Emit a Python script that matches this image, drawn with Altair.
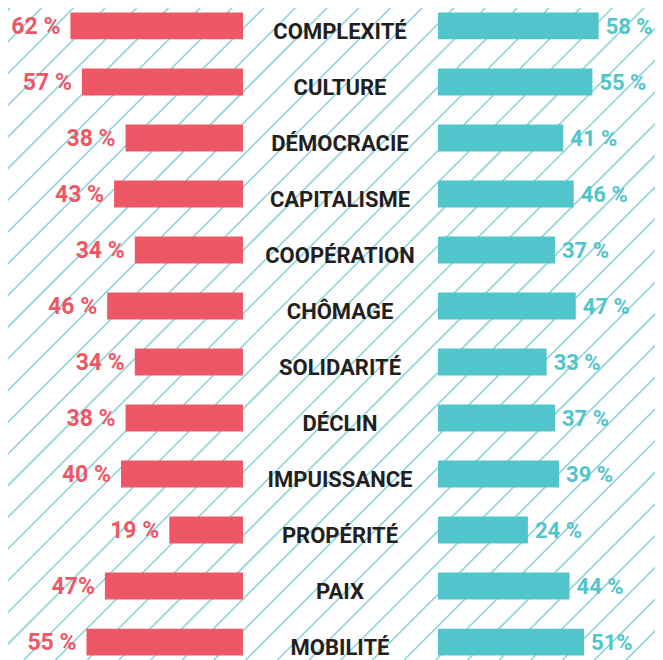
import altair as alt
import pandas as pd

categories = ["COMPLEXITÉ", "CULTURE", "DÉMOCRACIE", "CAPITALISME", "COOPÉRATION",
              "CHÔMAGE", "SOLIDARITÉ", "DÉCLIN", "IMPUISSANCE", "PROPÉRITÉ", "PAIX", "MOBILITÉ"]
left_values = [62, 57, 38, 43, 34, 46, 34, 38, 40, 19, 47, 55]
right_values = [58, 55, 41, 46, 37, 47, 33, 37, 39, 24, 44, 51]
left_labels = ["62 %", "57 %", "38 %", "43 %", "34 %", "46 %", "34 %", "38 %", "40 %", "19 %", "47%", "55 %"]
right_labels = ["58 %", "55 %", "41 %", "46 %", "37 %", "47 %", "33 %", "37 %", "39 %", "24 %", "44 %", "51%"]

W, H = 647, 652
RED = "#EE5766"
TEAL = "#52C5CC"
DARK = "#231F20"
STRIPE = "#8FD3D9"
FONT = "Roboto"

df = pd.DataFrame({
    "cat": categories,
    "left": left_values,
    "right": right_values,
    "llab": left_labels,
    "rlab": right_labels,
})

# decorative diagonal hatching (background pattern)
stripe_step = 31.7
stripes = pd.DataFrame({"c": [2 + stripe_step * k for k in range(0, 45)]})
stripes["x0"] = stripes["c"] - H

y_enc = alt.Y("cat:N", sort=categories, axis=None,
              scale=alt.Scale(type="band", paddingInner=0.52, paddingOuter=0.08))

# bar baselines sit slightly below zero, as in the original graphic
LEFT_BASE = -13.04
RIGHT_BASE = -19.23
left_scale = alt.Scale(domain=[0, 100], range=[205, -25])
right_scale = alt.Scale(domain=[0, 100], range=[470, 678])
pix_scale = alt.Scale(domain=[0, W], range=[0, W])

stripe_layer = alt.Chart(stripes).mark_rule(color=STRIPE, strokeWidth=1.6, clip=True).encode(
    x=alt.X("x0:Q", scale=pix_scale, axis=None),
    x2="c:Q",
    y=alt.value(H),
    y2=alt.value(0),
)

base = alt.Chart(df)

left_bars = base.mark_bar(color=RED).encode(
    x=alt.X("left:Q", scale=left_scale, axis=None),
    x2=alt.datum(LEFT_BASE),
    y=y_enc,
)
left_text = base.mark_text(color=RED, font=FONT, fontWeight="bold", fontSize=23,
                           align="right", baseline="middle", dx=-10, dy=1).encode(
    x=alt.X("left:Q", scale=left_scale, axis=None),
    y=y_enc,
    text="llab:N",
)
right_bars = base.mark_bar(color=TEAL).encode(
    x=alt.X("right:Q", scale=right_scale, axis=None),
    x2=alt.datum(RIGHT_BASE),
    y=y_enc,
)
right_text = base.mark_text(color=TEAL, font=FONT, fontWeight="bold", fontSize=22,
                            align="left", baseline="middle", dx=7, dy=1).encode(
    x=alt.X("right:Q", scale=right_scale, axis=None),
    y=y_enc,
    text="rlab:N",
)
cat_text = base.mark_text(color=DARK, font=FONT, fontWeight="bold", fontSize=22,
                          align="center", baseline="middle", dy=6).encode(
    x=alt.value(332),
    y=y_enc,
    text="cat:N",
)

chart = alt.layer(
    stripe_layer, left_bars, left_text, right_bars, right_text, cat_text
).resolve_scale(x="independent").properties(
    width=W, height=H,
    autosize=alt.AutoSizeParams(type="none"),
    padding=0,
    background="white",
).configure_view(stroke=None)

chart.save("out.html", embed_options={"renderer": "svg", "actions": False})
